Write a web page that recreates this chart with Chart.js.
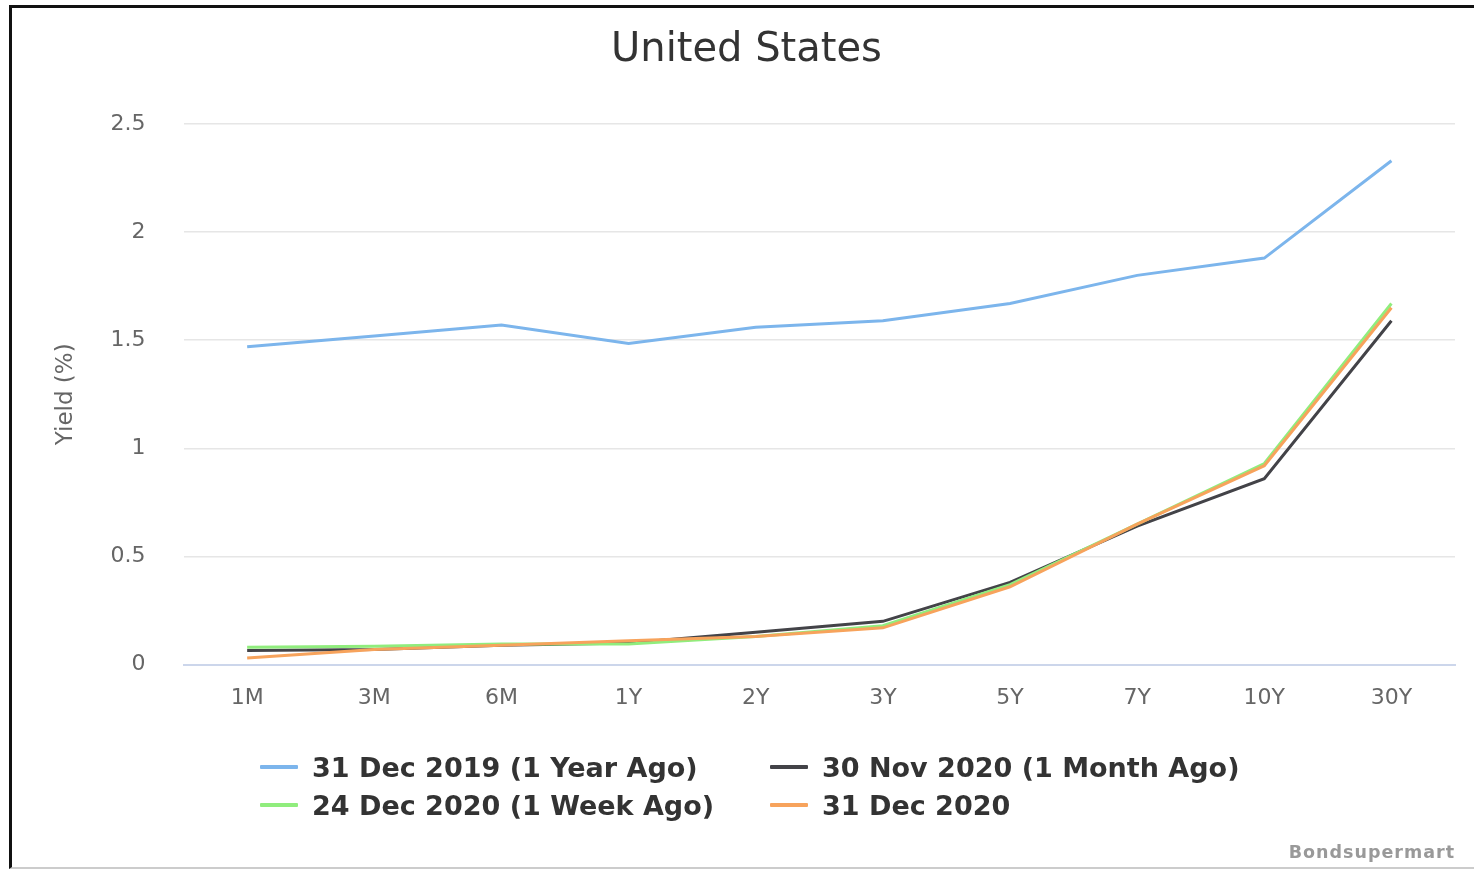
<!DOCTYPE html>
<html>
<head>
<meta charset="utf-8">
<script src="https://cdn.jsdelivr.net/npm/chart.js@4"></script>
<style>
  html, body { margin: 0; padding: 0; background: #fff; }
  body { width: 1474px; height: 871px; position: relative; overflow: hidden; font-family: "DejaVu Sans", sans-serif; }
  #frame { position: absolute; left: 9px; top: 5px; right: 0; bottom: 2px; border-left: 3px solid #111; border-top: 3px solid #111; border-bottom: 2px solid #ccc; }
  #wrap { position: absolute; left: 0; top: 0; width: 1474px; height: 871px; }
  #legend { position: absolute; left: 260px; top: 750px; display: grid; grid-template-columns: 510px 500px; row-gap: 4px; }
  .item { display: flex; align-items: center; height: 34px; font-weight: bold; font-size: 27px; color: #333; }
  .item span.sw { display: inline-block; width: 38px; height: 4px; margin-right: 14px; border-radius: 1px; }
  #credit { position: absolute; right: 19px; top: 842px; font-size: 17.5px; font-weight: bold; color: #999; letter-spacing: 1px; }
</style>
</head>
<body>
<div id="frame"></div>
<div id="wrap"><canvas id="chart" width="1474" height="871"></canvas></div>
<div id="legend"></div>
<div id="credit">Bondsupermart</div>
<script>
const tenors = ["1M", "3M", "6M", "1Y", "2Y", "3Y", "5Y", "7Y", "10Y", "30Y"];

const yearAgo = [1.47, 1.52, 1.57, 1.485, 1.56, 1.59, 1.67, 1.80, 1.88, 2.33];
const monthAgo = [0.065, 0.07, 0.09, 0.10, 0.15, 0.20, 0.38, 0.64, 0.86, 1.59];
const weekAgo = [0.08, 0.085, 0.095, 0.095, 0.13, 0.18, 0.37, 0.65, 0.93, 1.67];
const latest = [0.03, 0.07, 0.09, 0.11, 0.13, 0.17, 0.36, 0.65, 0.92, 1.65];

const seriesNames = ["31 Dec 2019 (1 Year Ago)", "30 Nov 2020 (1 Month Ago)", "24 Dec 2020 (1 Week Ago)", "31 Dec 2020"];
const seriesColors = ["#7cb5ec", "#434348", "#90ed7d", "#f7a35c"];
const seriesData = [yearAgo, monthAgo, weekAgo, latest];

const datasets = seriesData.map((d, i) => ({
  label: seriesNames[i],
  data: d,
  borderColor: seriesColors[i],
  backgroundColor: seriesColors[i],
  borderWidth: 3,
  pointRadius: 0,
  tension: 0,
  fill: false,
  order: 4 - i
}));

// legend in two columns like the original
const legend = document.getElementById("legend");
[0, 1, 2, 3].forEach(i => {
  const div = document.createElement("div");
  div.className = "item";
  div.innerHTML = `<span class="sw" style="background:${seriesColors[i]}"></span>${seriesNames[i]}`;
  legend.appendChild(div);
});

const ctx = document.getElementById("chart").getContext("2d");
new Chart(ctx, {
  type: "line",
  data: { labels: tenors, datasets: datasets },
  options: {
    responsive: false,
    animation: false,
    layout: { padding: { left: 38, right: 19, top: 8, bottom: 140 } },
    plugins: {
      legend: { display: false },
      tooltip: { enabled: false },
      title: {
        display: true,
        text: "United States",
        color: "#333",
        font: { family: "DejaVu Sans", size: 40, weight: "normal" },
        padding: { top: 19, bottom: 49 }
      }
    },
    scales: {
      x: {
        offset: true,
        grid: { display: false, drawTicks: false },
        border: { color: "#ccd6eb", width: 2 },
        ticks: { color: "#666", font: { family: "DejaVu Sans", size: 22 }, padding: 20 }
      },
      y: {
        min: 0,
        max: 2.5,
        ticks: {
          stepSize: 0.5,
          color: "#666",
          font: { family: "DejaVu Sans", size: 22 },
          padding: 38,
          callback: v => String(v)
        },
        grid: { color: "#e6e6e6", lineWidth: 1.5, drawTicks: false },
        border: { display: false },
        title: {
          display: true,
          text: "Yield (%)",
          color: "#666",
          font: { family: "DejaVu Sans", size: 23 },
          padding: { top: 14, bottom: -7 }
        }
      }
    }
  }
});
</script>
</body>
</html>
